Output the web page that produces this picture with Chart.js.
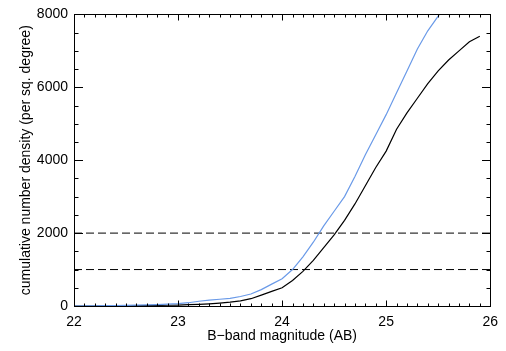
<!DOCTYPE html>
<html>
<head>
<meta charset="utf-8">
<script src="https://cdn.jsdelivr.net/npm/chart.js@4.4.0/dist/chart.umd.min.js"></script>
<style>
  body { margin: 0; background: #fff; }
  #wrap { width: 506px; height: 351px; }
</style>
</head>
<body>
<div id="wrap"><canvas id="chart" width="506" height="351"></canvas></div>
<script>
// B-band magnitude grid (AB)
const magnitudes = [22.0, 22.1, 22.2, 22.3, 22.4, 22.5, 22.6, 22.7, 22.8, 22.9,
                    23.0, 23.1, 23.2, 23.3, 23.4, 23.5, 23.6, 23.7, 23.8, 23.9,
                    24.0, 24.1, 24.2, 24.3, 24.4, 24.5, 24.6, 24.7, 24.8, 24.9,
                    25.0, 25.1, 25.2, 25.3, 25.4, 25.5, 25.6, 25.7, 25.8, 25.9];
// cumulative number density per sq. degree
const blackDensity = [0, 0, 0, 2, 3, 5, 8, 12, 16, 20,
                      25, 35, 45, 60, 80, 105, 140, 200, 300, 400,
                      500, 700, 950, 1250, 1600, 1950, 2350, 2800, 3300, 3800,
                      4250, 4850, 5300, 5700, 6100, 6450, 6750, 7000, 7250, 7400];
const blueDensity = [0, 2, 5, 8, 12, 17, 22, 30, 40, 50,
                     65, 90, 130, 160, 185, 210, 260, 330, 450, 600,
                     750, 1000, 1350, 1750, 2200, 2600, 3000, 3550, 4150, 4700,
                     5250, 5850, 6450, 7050, 7550, 7950, 8400];
const refLevels = [2000, 1000];
const xTicks = [22, 23, 24, 25, 26];
const yTicks = [0, 2000, 4000, 6000, 8000];

const toPoints = arr => arr.map((v, i) => ({ x: magnitudes[i], y: v }));

const refSets = refLevels.map(level => ({
    data: [{ x: xTicks[0], y: level }, { x: xTicks[xTicks.length - 1], y: level }],
    borderColor: '#000',
    borderWidth: 1,
    borderDash: [8, 4],
    pointRadius: 0,
    order: 3
}));

// box around the plot with inward ticks, IDL style
const frameTicks = {
    id: 'frameTicks',
    afterDatasetsDraw(chart) {
        const { ctx, chartArea: a, scales: { x, y } } = chart;
        const L = Math.round(a.left) + 0.5, R = Math.round(a.right) + 0.5;
        const T = Math.round(a.top) + 0.5, B = Math.round(a.bottom) + 0.5;
        ctx.save();
        ctx.strokeStyle = '#000';
        ctx.lineWidth = 1;
        ctx.strokeRect(L, T, R - L, B - T);
        ctx.beginPath();
        for (let i = 0; i <= 40; i++) {
            const px = Math.round(x.getPixelForValue(22 + i / 10)) + 0.5;
            const len = i % 10 === 0 ? 6 : 3;
            ctx.moveTo(px, B); ctx.lineTo(px, B - len);
            ctx.moveTo(px, T); ctx.lineTo(px, T + len);
        }
        for (let i = 0; i <= 16; i++) {
            const py = Math.round(y.getPixelForValue(i * 500)) + 0.5;
            const len = i % 4 === 0 ? 8.5 : 4;
            ctx.moveTo(L, py); ctx.lineTo(L + len, py);
            ctx.moveTo(R, py); ctx.lineTo(R - len, py);
        }
        ctx.stroke();
        ctx.restore();
    }
};

Chart.defaults.color = '#000';
Chart.defaults.font.family = '"Liberation Sans", Arial, sans-serif';
Chart.defaults.font.size = 14;

new Chart(document.getElementById('chart'), {
    type: 'line',
    data: {
        datasets: [
            {
                data: toPoints(blueDensity),
                borderColor: '#6a9ae8',
                borderWidth: 1.2,
                pointRadius: 0,
                order: 1
            },
            {
                data: toPoints(blackDensity),
                borderColor: '#000',
                borderWidth: 1.2,
                pointRadius: 0,
                order: 2
            },
            ...refSets
        ]
    },
    options: {
        responsive: false,
        animation: false,
        layout: { padding: { top: 8, right: 11, left: 0, bottom: 0 } },
        plugins: { legend: { display: false }, tooltip: { enabled: false } },
        scales: {
            x: {
                type: 'linear',
                min: 22,
                max: 26,
                grid: { display: false, drawTicks: false, tickLength: 0 },
                border: { display: false },
                afterBuildTicks: s => { s.ticks = xTicks.map(v => ({ value: v })); },
                afterFit: s => { s.height = 45; },
                ticks: { padding: 8, maxRotation: 0, callback: v => String(v) },
                title: {
                    display: true,
                    text: 'B\u2212band magnitude (AB)',
                    padding: { top: 0, bottom: 6 }
                }
            },
            y: {
                min: 0,
                max: 8000,
                grid: { display: false, drawTicks: false, tickLength: 0 },
                border: { display: false },
                afterBuildTicks: s => { s.ticks = yTicks.map(v => ({ value: v })); },
                afterFit: s => { s.width = 74; },
                ticks: { padding: 6, callback: v => String(v) },
                title: {
                    display: true,
                    text: 'cumulative number density (per sq. degree)',
                    padding: { top: 18, bottom: 0 }
                }
            }
        }
    },
    plugins: [frameTicks]
});
</script>
</body>
</html>
